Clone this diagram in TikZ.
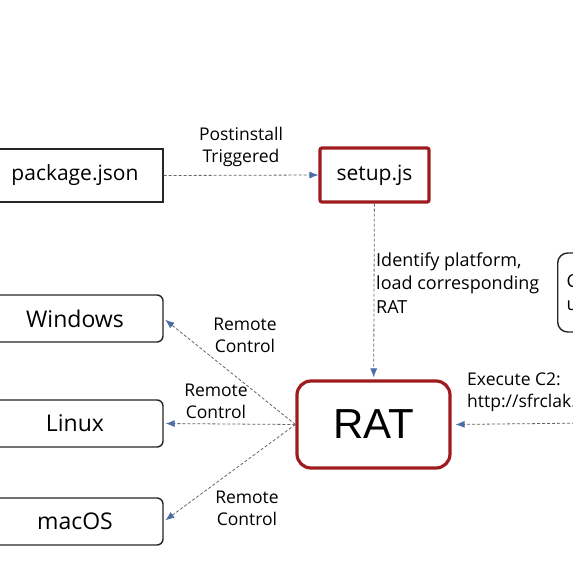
\documentclass[tikz,border=0pt]{standalone}
\usepackage{fontspec}
\setmainfont{Open Sans}
\newfontfamily\ratfont{Liberation Sans}
\usetikzlibrary{arrows.meta}
\definecolor{boxred}{HTML}{9E1B1E}
\definecolor{tipblue}{HTML}{4A6DA8}
\definecolor{linegray}{HTML}{666666}

\begin{document}
\begin{tikzpicture}[x=1pt,y=-1pt,
  plainbox/.style={draw=black!85,line width=1.4pt,minimum width=176pt,minimum height=47pt,inner sep=0pt,font=\fontsize{23}{26}\selectfont},
  osbox/.style={plainbox,rounded corners=6pt},
  redbox/.style={draw=boxred,line width=3.2pt,inner sep=0pt},
  flow/.style={draw=linegray,line width=0.8pt,dash pattern=on 3pt off 2pt,-{Latex[length=9pt,width=7pt,color=tipblue]}},
  note/.style={font=\fontsize{17.5}{22}\selectfont,align=center,inner sep=0pt}]
  \useasboundingbox (0,0) rectangle (573,574);
  \clip (0,0) rectangle (573,574);
  \fill[white] (0,0) rectangle (573,574);

  \node[plainbox,minimum height=53pt,font=\fontsize{21}{24}\selectfont] (pkg) at (75,175.5) {package.json};
  \node[redbox,rounded corners=2pt,minimum width=109pt,minimum height=54pt,font=\fontsize{21}{24}\selectfont] (setup) at (374.5,175) {setup.js};
  \node[redbox,rounded corners=14pt,minimum width=153pt,minimum height=87pt,font=\ratfont\fontsize{42}{46}\selectfont] (rat) at (373.5,424.5) {RAT};
  \node[osbox] (win) at (75,318.5) {Windows};
  \node[osbox] (lin) at (75,423.5) {Linux};
  \node[osbox] (mac) at (75,521.5) {macOS};
  \node[draw=black!85,line width=1.4pt,rounded corners=10pt,anchor=west,text width=70pt,minimum height=79pt,align=left,inner xsep=9pt,font=\fontsize{18}{23}\selectfont] (cserver) at (557,292.5) {C\\u};

  \node[note] (pinst) at (241,147) {Postinstall\\Triggered};
  \node[note,align=left,anchor=west,font=\fontsize{18}{23.5}\selectfont] (ident) at (376,283) {Identify platform,\\load corresponding\\RAT};
  \node[note,align=left,anchor=west] (exec) at (467,392) {Execute C2:\\http://sfrclak.com:8000};
  \node[note] (rc1) at (245,335) {Remote\\Control};
  \node[note] (rc2) at (216,401) {Remote\\Control};
  \node[note] (rc3) at (247,508) {Remote\\Control};

  \coordinate (c2in) at (590,423);
  \draw[flow] (pkg.east) -- (setup.west);
  \draw[flow,shorten >=2pt] (setup) -- (rat);
  \draw[flow,shorten >=4pt] (c2in) -- (rat.east);
  \draw[flow,shorten >=2pt] (rat.west) -- (win.east);
  \draw[flow,shorten >=2pt] (rat.west) -- (lin.east);
  \draw[flow,shorten >=2pt] (rat.west) -- (mac.east);
\end{tikzpicture}
\end{document}
